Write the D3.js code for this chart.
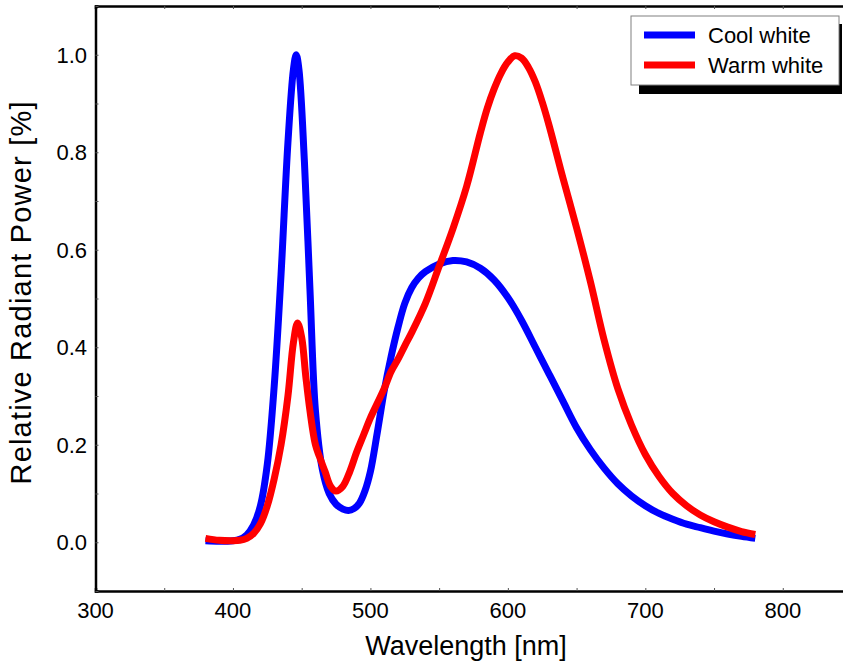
<!DOCTYPE html>
<html>
<head>
<meta charset="utf-8">
<script src="https://cdn.jsdelivr.net/npm/d3@7"></script>
<style>
  body { margin: 0; background: #fff; }
  svg { display: block; font-family: "Liberation Sans", Arial, sans-serif; }
</style>
</head>
<body>
<div class="spectrum"></div>
<script>
// wavelengths (nm) and relative power
const coolNm  = [380, 390, 400, 405, 410, 415, 420, 425, 430, 435, 440, 444, 446, 448, 452, 456, 460, 465, 470, 475, 480, 484, 488, 492, 496, 500, 505, 510, 515, 520, 525, 530, 535, 540, 550, 560, 570, 580, 590, 600, 610, 620, 630, 640, 650, 660, 670, 680, 690, 700, 710, 720, 730, 740, 750, 760, 770, 780];
const coolVal = [0.003, 0.002, 0.003, 0.006, 0.015, 0.035, 0.075, 0.16, 0.32, 0.55, 0.82, 0.97, 1.0, 0.97, 0.78, 0.52, 0.27, 0.15, 0.1, 0.078, 0.068, 0.065, 0.069, 0.08, 0.105, 0.145, 0.225, 0.31, 0.38, 0.44, 0.49, 0.522, 0.542, 0.555, 0.571, 0.578, 0.575, 0.562, 0.538, 0.502, 0.455, 0.4, 0.345, 0.29, 0.235, 0.19, 0.152, 0.12, 0.095, 0.075, 0.059, 0.047, 0.037, 0.03, 0.023, 0.017, 0.012, 0.008];

const warmNm  = [380, 390, 400, 405, 410, 415, 420, 425, 430, 435, 440, 444, 447, 450, 453, 456, 460, 463, 467, 471, 475, 480, 485, 490, 495, 500, 505, 510, 515, 520, 525, 530, 540, 550, 560, 570, 580, 585, 590, 595, 600, 605, 610, 615, 620, 625, 630, 640, 650, 660, 670, 680, 690, 700, 710, 720, 730, 740, 750, 760, 770, 780];
const warmVal = [0.008, 0.004, 0.003, 0.004, 0.008, 0.018, 0.038, 0.075, 0.13, 0.2, 0.3, 0.41, 0.45, 0.42, 0.34, 0.27, 0.2, 0.175, 0.145, 0.115, 0.105, 0.115, 0.145, 0.185, 0.22, 0.255, 0.285, 0.315, 0.35, 0.375, 0.403, 0.43, 0.49, 0.566, 0.643, 0.73, 0.84, 0.89, 0.93, 0.962, 0.985, 0.998, 0.993, 0.974, 0.944, 0.903, 0.855, 0.748, 0.645, 0.535, 0.415, 0.315, 0.24, 0.18, 0.135, 0.1, 0.075, 0.056, 0.042, 0.031, 0.022, 0.016];

const seriesNames = ["Cool white", "Warm white"];
const seriesColors = ["#0000ff", "#ff0000"];

const xTicks = [300, 350, 400, 450, 500, 550, 600, 650, 700, 750, 800, 850];
const xLabels = [300, 400, 500, 600, 700, 800];
const yTicks = [-0.1, 0, 0.1, 0.2, 0.3, 0.4, 0.5, 0.6, 0.7, 0.8, 0.9, 1.0, 1.1];
const yLabels = [0, 0.2, 0.4, 0.6, 0.8, 1.0];

const width = 843;
const height = 666;

const x = d3.scaleLinear().domain([300, 850]).range([95.5, 851.5]);
const y = d3.scaleLinear().domain([-0.1, 1.1]).range([591, 6]);

const svg = d3.select(".spectrum").append("svg")
  .attr("width", width)
  .attr("height", height);

// axes, ticks point inward
const bottomAxis = svg.append("g")
  .attr("transform", "translate(0," + y(-0.1) + ")")
  .call(d3.axisBottom(x).tickValues(xTicks).tickSize(-3).tickFormat(""));
const topAxis = svg.append("g")
  .attr("transform", "translate(0," + y(1.1) + ")")
  .call(d3.axisTop(x).tickValues(xTicks).tickSize(-3).tickFormat(""));
const leftAxis = svg.append("g")
  .attr("transform", "translate(" + x(300) + ",0)")
  .call(d3.axisLeft(y).tickValues(yTicks).tickSize(-3).tickFormat(""));

[bottomAxis, topAxis, leftAxis].forEach(function(g) {
  g.select(".domain").attr("stroke", "#000").attr("stroke-width", 2.5);
  g.selectAll(".tick line").attr("stroke", "#555").attr("stroke-width", 1);
});

// tick labels
svg.append("g").selectAll("text")
  .data(xLabels)
  .enter().append("text")
  .attr("x", function(d) { return x(d); })
  .attr("y", 618)
  .attr("text-anchor", "middle")
  .style("font-size", "22px")
  .attr("fill", "#000")
  .text(function(d) { return d; });

svg.append("g").selectAll("text")
  .data(yLabels)
  .enter().append("text")
  .attr("x", 87)
  .attr("y", function(d) { return y(d) + 8; })
  .attr("text-anchor", "end")
  .style("font-size", "22px")
  .attr("fill", "#000")
  .text(function(d) { return d3.format(".1f")(d); });

// axis titles
svg.append("text")
  .attr("x", 466)
  .attr("y", 655)
  .attr("text-anchor", "middle")
  .style("font-size", "27px")
  .attr("fill", "#000")
  .text("Wavelength [nm]");

svg.append("text")
  .attr("transform", "translate(31,293) rotate(-90)")
  .attr("text-anchor", "middle")
  .attr("textLength", 383)
  .attr("lengthAdjust", "spacing")
  .style("font-size", "29px")
  .attr("fill", "#000")
  .text("Relative Radiant Power [%]");

// curves
const line = d3.line()
  .x(function(d) { return x(d[0]); })
  .y(function(d) { return y(d[1]); })
  .curve(d3.curveCatmullRom.alpha(0.5));

const cool = d3.zip(coolNm, coolVal);
const warm = d3.zip(warmNm, warmVal);

[cool, warm].forEach(function(data, i) {
  svg.append("path")
    .datum(data)
    .attr("d", line)
    .attr("fill", "none")
    .attr("stroke", seriesColors[i])
    .attr("stroke-width", 7)
    .attr("stroke-linejoin", "round")
    .attr("stroke-linecap", "butt");
});

// legend
const legend = svg.append("g");
legend.append("rect")
  .attr("x", 639).attr("y", 24)
  .attr("width", 203).attr("height", 70)
  .attr("fill", "#000");
legend.append("rect")
  .attr("x", 631).attr("y", 16)
  .attr("width", 208).attr("height", 69)
  .attr("fill", "#fff")
  .attr("stroke", "#808080")
  .attr("stroke-width", 1);

seriesNames.forEach(function(name, i) {
  const ly = 35 + i * 30;
  legend.append("line")
    .attr("x1", 644).attr("x2", 695)
    .attr("y1", ly).attr("y2", ly)
    .attr("stroke", seriesColors[i])
    .attr("stroke-width", 7);
  legend.append("text")
    .attr("x", 708)
    .attr("y", ly + 8)
    .style("font-size", "22px")
    .attr("fill", "#000")
    .text(name);
});
</script>
</body>
</html>
